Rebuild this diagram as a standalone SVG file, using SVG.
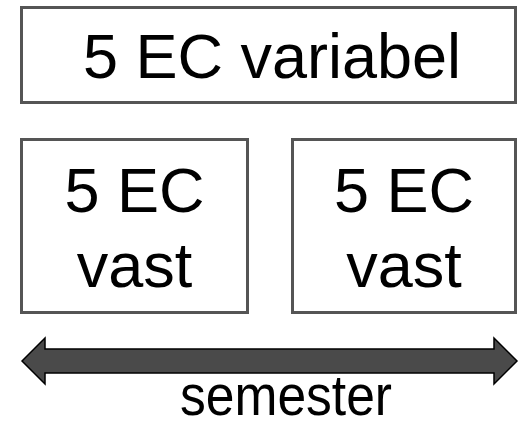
<svg xmlns="http://www.w3.org/2000/svg" width="529" height="422" viewBox="0 0 529 422">
<style>
.box{fill:#fff;stroke:#555;stroke-width:3}
.t{font-family:"Liberation Sans",Arial,sans-serif;font-size:63px;fill:#000;text-anchor:middle}
</style>
<rect width="529" height="422" fill="#fff"/>
<g id="variabel">
<rect class="box" x="21.5" y="7.5" width="494" height="95"/>
<text class="t" x="272" y="78">5 EC variabel</text>
</g>
<g id="vast1">
<rect class="box" x="21.5" y="139.5" width="226" height="173"/>
<text class="t" x="134.5" y="212">5 EC</text>
<text class="t" x="134.5" y="287">vast</text>
</g>
<g id="vast2">
<rect class="box" x="292.5" y="139.5" width="223" height="173"/>
<text class="t" x="404" y="212">5 EC</text>
<text class="t" x="404" y="287">vast</text>
</g>
<g id="connectors">
<path d="M22,361 L45,338 L45,349 L494,349 L494,338 L517,361 L494,384 L494,373 L45,373 L45,384 Z" fill="#4a4a4a" stroke="#000" stroke-width="1.5" stroke-linejoin="miter"/>
</g>
<text x="180" y="415" style="font-family:'Liberation Sans',Arial,sans-serif;font-size:58px" textLength="212" lengthAdjust="spacingAndGlyphs">semester</text>
</svg>
